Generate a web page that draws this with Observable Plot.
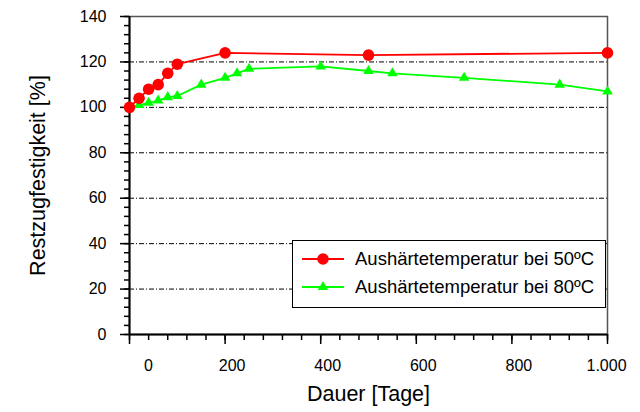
<!DOCTYPE html>
<html><head><meta charset="utf-8">
<script src="https://cdn.jsdelivr.net/npm/d3@7"></script>
<script src="https://cdn.jsdelivr.net/npm/@observablehq/plot@0.6"></script>
<style>
body{margin:0;background:#fff;font-family:"Liberation Sans",Arial,sans-serif;}
#wrap{position:relative;width:640px;height:412px;overflow:hidden;}
#legend{position:absolute;left:292px;top:240px;width:314px;height:68px;border:1.5px solid #000;background:#fff;box-sizing:border-box;}
.row{position:absolute;left:0;height:24px;display:flex;align-items:center;font-size:18.5px;color:#000;white-space:nowrap;}
.row svg{margin-left:9px;margin-right:11px;}
</style></head><body><div id="wrap"></div>
<script>
// Data
const days50 = [0, 20, 40, 60, 80, 100, 200, 500, 1000];
const strength50 = [100, 104, 108, 110, 115, 119, 124, 123, 124];
const days80 = [0, 20, 40, 60, 80, 100, 150, 200, 225, 250, 400, 500, 550, 700, 900, 1000];
const strength80 = [100, 101, 102, 103, 104.5, 105, 110, 113, 115, 117, 118, 116, 115, 113, 110, 107];
const seriesNames = ["Aushärtetemperatur bei 50ºC", "Aushärtetemperatur bei 80ºC"];
const seriesColors = ["#ff0000", "#00ff00"];
const xTickFirst = [0];
const xTickMiddle = [200, 400, 600, 800];
const xTickLast = [1000];
const xMajorTicks = [0, 200, 400, 600, 800, 1000];
const yMajorTicks = [0, 20, 40, 60, 80, 100, 120, 140];
const gridValues = [20, 40, 60, 80, 100, 120];
const xTitle = "Dauer [Tage]";
const yTitle = "Restzugfestigkeit [%]";

const data50 = days50.map((d, i) => ({x: d, y: strength50[i]}));
const data80 = days80.map((d, i) => ({x: d, y: strength80[i]}));
const loc = d3.formatLocale({decimal: ",", thousands: ".", grouping: [3], currency: ["", "€"]});
const fmt = loc.format(",");
const blank = () => "";

const chart = Plot.plot({
  width: 640, height: 412,
  marginLeft: 129, marginRight: 33, marginTop: 16, marginBottom: 78,
  style: {fontFamily: "'Liberation Sans', Arial, sans-serif", fontSize: "16px", color: "#000", background: "#fff", overflow: "visible"},
  x: {domain: [0, 1000]},
  y: {domain: [0, 140]},
  marks: [
    Plot.ruleY(gridValues, {stroke: "#000", strokeWidth: 1, strokeDasharray: "5,2,1,2"}),
    Plot.frame({stroke: "#555", strokeWidth: 1.5}),
    Plot.ruleX([0], {stroke: "#000", strokeWidth: 2}),
    Plot.ruleY([0], {stroke: "#000", strokeWidth: 2}),
    // y axis ticks
    Plot.axisY({interval: 4, tickSize: 5, tickFormat: blank, label: null, strokeWidth: 1.5}),
    Plot.axisY(yMajorTicks, {tickSize: 9, tickFormat: blank, label: null, strokeWidth: 1.5}),
    Plot.axisY(yMajorTicks, {tickSize: 0, tickPadding: 23, label: null, fontSize: 16}),
    // x axis ticks
    Plot.axisX({interval: 40, tickSize: 6, tickFormat: blank, label: null, strokeWidth: 1.5}),
    Plot.axisX(xMajorTicks, {tickSize: 10, tickFormat: blank, label: null, strokeWidth: 1.5}),
    Plot.axisX(xTickFirst, {tickSize: 0, tickPadding: 25, tickFormat: fmt, label: null, dx: 19, fontSize: 16}),
    Plot.axisX(xTickMiddle, {tickSize: 0, tickPadding: 25, tickFormat: fmt, label: null, dx: 7, fontSize: 16}),
    Plot.axisX(xTickLast, {tickSize: 0, tickPadding: 25, tickFormat: fmt, label: null, dx: -1, fontSize: 16}),
    // titles
    Plot.text([yTitle], {text: d => d, frameAnchor: "left", textAnchor: "middle", rotate: -90, dx: -91, fontSize: 21.5}),
    Plot.text([xTitle], {text: d => d, frameAnchor: "bottom", dy: 66, fontSize: 21.5}),
    // series
    Plot.line(data80, {x: "x", y: "y", stroke: seriesColors[1], strokeWidth: 1.8}),
    Plot.dot(data80, {x: "x", y: "y", symbol: "triangle", r: 3.9, fill: seriesColors[1], stroke: null}),
    Plot.line(data50, {x: "x", y: "y", stroke: seriesColors[0], strokeWidth: 1.8}),
    Plot.dot(data50, {x: "x", y: "y", r: 5.8, fill: seriesColors[0], stroke: null})
  ]
});

const wrap = document.getElementById("wrap");
wrap.appendChild(chart);

// Legend
const legend = document.createElement("div");
legend.id = "legend";
const symbols = [
  `<circle cx="21" cy="12" r="5.8" fill="${seriesColors[0]}"/>`,
  `<path d="${d3.symbol(d3.symbolTriangle, Math.PI * 3.9 * 3.9)()}" transform="translate(21,12)" fill="${seriesColors[1]}"/>`
];
seriesNames.forEach((name, i) => {
  const row = document.createElement("div");
  row.className = "row";
  row.style.top = (i === 0 ? 6 : 34) + "px";
  row.innerHTML = `<svg width="42" height="24"><line x1="0" x2="42" y1="12" y2="12" stroke="${seriesColors[i]}" stroke-width="1.8"/>${symbols[i]}</svg><span>${name}</span>`;
  legend.appendChild(row);
});
wrap.appendChild(legend);
</script>
</body></html>
